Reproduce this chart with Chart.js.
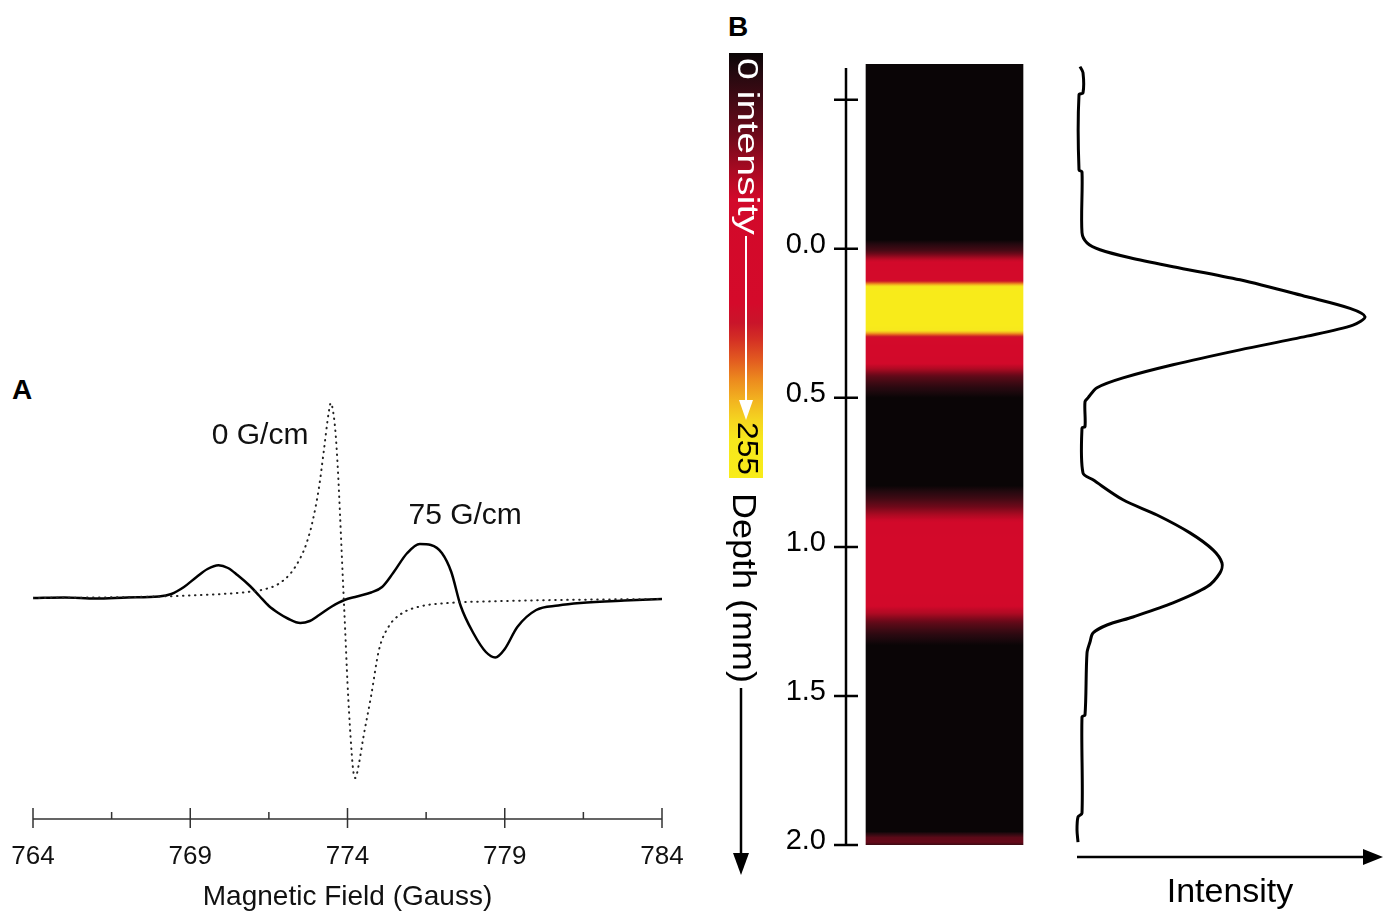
<!DOCTYPE html>
<html>
<head>
<meta charset="utf-8">
<script src="https://cdn.jsdelivr.net/npm/chart.js@4.4.1/dist/chart.umd.min.js"></script>
<style>
  html, body { margin: 0; padding: 0; background: #fff; }
  body { width: 1383px; height: 914px; position: relative; overflow: hidden; font-family: "Liberation Sans", Arial, sans-serif; }
  canvas { position: absolute; }
  .panel { position: absolute; font-weight: bold; font-size: 28px; line-height: 28px; color: #000; }
</style>
</head>
<body>
<div class="panel" style="left:12px;top:376px">A</div>
<div class="panel" style="left:728px;top:13px">B</div>
<canvas id="chartA" width="700" height="554" style="left:0;top:360px"></canvas>
<canvas id="chartCbar" width="50" height="850" style="left:720px;top:40px"></canvas>
<canvas id="chartDepth" width="280" height="914" style="left:770px;top:0"></canvas>
<canvas id="chartProfile" width="333" height="914" style="left:1050px;top:0"></canvas>
<script>
const FONT = '"Liberation Sans", Arial, Helvetica, sans-serif'

// ---------- panel A : EPR spectra ----------
const fieldTicks = [764, 766.5, 769, 771.5, 774, 776.5, 779, 781.5, 784]
const majorTicks = [764, 769, 774, 779, 784]

// 75 G/cm (solid)
const solidField = [764.0, 765.0, 766.0, 767.0, 768.0, 768.4, 768.8, 769.2, 769.55, 769.9, 770.2, 770.5, 770.9, 771.2, 771.5, 771.8, 772.1, 772.5, 772.8, 773.1, 773.5, 773.9, 774.3, 774.75, 775.1, 775.45, 775.9, 776.3, 776.65, 777.0, 777.3, 777.6, 778.0, 778.4, 778.7, 779.0, 779.4, 780.0, 780.7, 781.4, 782.8, 784.0]
const solidSignal = [0, 0.5, -0.5, 0.5, 1.5, 4, 11, 21, 29, 32.7, 30, 23, 12, 2, -8, -15, -20.5, -25, -23, -17, -8.5, -2, 1.5, 5.5, 11, 25, 45, 54, 53, 45, 26, -8, -35, -54, -59.5, -51, -29, -12, -7.5, -5, -2.5, -1]

// 0 G/cm (dotted)
const dotField = [764.0, 766.0, 768.0, 769.0, 770.0, 770.8, 771.4, 771.8, 772.2, 772.5, 772.7, 772.9, 773.1, 773.25, 773.4, 773.47, 773.55, 773.62, 773.7, 773.76, 773.83, 773.88, 773.93, 774.0, 774.1, 774.18, 774.25, 774.35, 774.5, 774.75, 775.0, 775.3, 775.7, 776.3, 777.2, 778.6, 781.4, 784.0]
const dotSignal = [0, 0.5, 1.5, 2.5, 4, 6, 9, 14, 25, 40, 55, 78, 112, 148, 185, 195, 185, 165, 125, 85, 35, 0, -35, -85, -140, -172, -180, -168, -140, -98, -52, -29, -16, -8.5, -5, -3.3, -1.7, -1]

const curveNames = ['0 G/cm', '75 G/cm']
const nameField = [771.22, 777.74]
const nameSignal = [162, 82]

// ---------- panel B : depth profile ----------
const depthMin = -0.62
const depthMax = 2.0
const depthTicks = [-0.5, 0, 0.5, 1.0, 1.5, 2.0]

// colour scale 0..255
const cbarLevel = [0, 12, 30, 50, 70, 88, 150, 162, 172, 184, 196, 208, 220, 232, 255]
const cbarColor = ['#0a0506', '#24090f', '#460a15', '#70091a', '#a80a22', '#d2092a', '#d40a2a', '#c9152a', '#d43024', '#e25a20', '#ec8a1e', '#f2b220', '#f5d420', '#f7e81c', '#f8ec1a']

// image strip, level
const stripDepth = [-0.62, -0.03, 0.005, 0.04, 0.075, 0.1, 0.107, 0.117, 0.128, 0.144, 0.255, 0.272, 0.285, 0.299, 0.322, 0.372, 0.40, 0.43, 0.465, 0.5, 0.795, 0.835, 0.872, 0.909, 0.966, 1.111, 1.178, 1.22, 1.258, 1.295, 1.33, 1.955, 1.975, 1.99, 2.0]
const stripLevel = [0, 0, 30, 85, 120, 125, 160, 195, 235, 250, 250, 235, 195, 150, 115, 100, 75, 40, 15, 0, 0, 25, 55, 85, 105, 112, 100, 75, 40, 15, 0, 0, 40, 45, 25]

// intensity profile
const profileDepth = [-0.611, -0.591, -0.523, -0.517, -0.265, -0.258, -0.054, -0.02, 0.003, 0.03, 0.06, 0.104, 0.161, 0.2, 0.228, 0.256, 0.293, 0.339, 0.389, 0.433, 0.466, 0.5, 0.513, 0.597, 0.601, 0.752, 0.775, 0.842, 0.893, 0.953, 1.01, 1.054, 1.087, 1.134, 1.188, 1.235, 1.262, 1.289, 1.319, 1.356, 1.564, 1.57, 1.893, 1.906, 1.95, 1.99]
const profileIntensity = [3, 6, 6, 2, 2, 5, 5, 10, 23, 53, 96, 163, 230, 273, 288, 276, 230, 163, 96, 46, 20, 11, 8, 8, 5, 6, 16, 46, 80, 113, 136, 145, 143, 130, 96, 56, 30, 16, 13, 10, 8, 5, 5, 1, 0, 1]

Chart.defaults.font.family = FONT
Chart.defaults.color = '#000'

function hexRgb(h) {
  const n = parseInt(h.slice(1), 16)
  return [(n >> 16) & 255, (n >> 8) & 255, n & 255]
}

function levelColor(level) {
  if (level <= cbarLevel[0]) return cbarColor[0]
  for (let i = 1; i < cbarLevel.length; i++) {
    if (level <= cbarLevel[i]) {
      const t = (level - cbarLevel[i - 1]) / (cbarLevel[i] - cbarLevel[i - 1])
      const a = hexRgb(cbarColor[i - 1]), b = hexRgb(cbarColor[i])
      return 'rgb(' + a.map((v, k) => Math.round(v + (b[k] - v) * t)).join(',') + ')'
    }
  }
  return cbarColor[cbarColor.length - 1]
}

function cbarGradient(chart) {
  const {ctx, chartArea, scales} = chart
  if (!chartArea) return cbarColor[0]
  const y = scales.y
  const g = ctx.createLinearGradient(0, y.getPixelForValue(0), 0, y.getPixelForValue(255))
  cbarLevel.forEach((l, i) => g.addColorStop(l / 255, cbarColor[i]))
  return g
}

function stripGradient(chart) {
  const {ctx, chartArea, scales} = chart
  if (!chartArea) return '#000'
  const y = scales.y
  const g = ctx.createLinearGradient(0, y.getPixelForValue(depthMin), 0, y.getPixelForValue(depthMax))
  const n = stripDepth.length
  for (let i = 0; i < n; i++) {
    const steps = i < n - 1 ? 6 : 1
    for (let s = 0; s < steps; s++) {
      const f = s / steps
      const d = i < n - 1 ? stripDepth[i] + (stripDepth[i + 1] - stripDepth[i]) * f : stripDepth[i]
      const l = i < n - 1 ? stripLevel[i] + (stripLevel[i + 1] - stripLevel[i]) * f : stripLevel[i]
      const off = Math.min(1, Math.max(0, (d - depthMin) / (depthMax - depthMin)))
      g.addColorStop(off, levelColor(l))
    }
  }
  return g
}

// rotated (clockwise) text stretched between two y positions
function fitText(ctx, text, cx, y0, y1, font, color) {
  ctx.save()
  ctx.font = font
  ctx.fillStyle = color
  const w = ctx.measureText(text).width
  ctx.translate(cx, y0)
  ctx.rotate(Math.PI / 2)
  ctx.scale((y1 - y0) / w, 1)
  ctx.textAlign = 'left'
  ctx.textBaseline = 'middle'
  ctx.fillText(text, 0, 0)
  ctx.restore()
}

function arrowDown(ctx, x, y0, y1, head, half, color, width) {
  ctx.save()
  ctx.strokeStyle = color
  ctx.fillStyle = color
  ctx.lineWidth = width
  ctx.beginPath()
  ctx.moveTo(x, y0)
  ctx.lineTo(x, y1 - head + 2)
  ctx.stroke()
  ctx.beginPath()
  ctx.moveTo(x - half, y1 - head)
  ctx.lineTo(x + half, y1 - head)
  ctx.lineTo(x, y1)
  ctx.closePath()
  ctx.fill()
  ctx.restore()
}

//########################## panel A
const fieldAxis = {
  id: 'fieldAxis',
  afterDraw(chart) {
    const {ctx, chartArea} = chart
    const x = chart.scales.x, y = chart.scales.y
    const y0 = chartArea.bottom
    ctx.save()
    ctx.strokeStyle = '#333'
    ctx.lineWidth = 1.5
    ctx.beginPath()
    ctx.moveTo(x.left, y0)
    ctx.lineTo(x.right, y0)
    fieldTicks.forEach(v => {
      const px = x.getPixelForValue(v)
      const major = majorTicks.includes(v)
      ctx.moveTo(px, y0 - (major ? 11 : 7))
      ctx.lineTo(px, y0 + (major ? 9 : 0))
    })
    ctx.stroke()
    ctx.font = '30px ' + FONT
    ctx.fillStyle = '#111'
    ctx.textAlign = 'center'
    ctx.textBaseline = 'middle'
    curveNames.forEach((t, i) => {
      ctx.fillText(t, x.getPixelForValue(nameField[i]), y.getPixelForValue(nameSignal[i]))
    })
    ctx.restore()
  }
}

new Chart(document.getElementById('chartA'), {
  type: 'scatter',
  data: {
    datasets: [
      {
        label: '0 G/cm',
        data: dotField.map((f, i) => ({x: f, y: dotSignal[i]})),
        showLine: true,
        pointRadius: 0,
        borderColor: '#222',
        borderWidth: 2,
        borderDash: [0.5, 5.5],
        borderCapStyle: 'round',
        cubicInterpolationMode: 'monotone'
      },
      {
        label: '75 G/cm',
        data: solidField.map((f, i) => ({x: f, y: solidSignal[i]})),
        showLine: true,
        pointRadius: 0,
        borderColor: '#000',
        borderWidth: 2.5,
        cubicInterpolationMode: 'monotone'
      }
    ]
  },
  options: {
    responsive: false,
    animation: false,
    events: [],
    layout: {padding: {left: 33, right: 38, top: 20, bottom: 0}},
    plugins: {legend: {display: false}, tooltip: {enabled: false}},
    scales: {
      x: {
        type: 'linear',
        min: 764,
        max: 784,
        grid: {display: false, drawTicks: false},
        border: {display: false},
        afterBuildTicks: s => { s.ticks = fieldTicks.map(v => ({value: v})) },
        afterFit: s => { s.height = 95; s.paddingLeft = 0; s.paddingRight = 0 },
        ticks: {
          autoSkip: false,
          maxRotation: 0,
          padding: 22,
          color: '#111',
          font: {size: 26},
          callback: v => majorTicks.includes(v) ? String(v) : ''
        },
        title: {display: true, text: 'Magnetic Field (Gauss)', color: '#111', font: {size: 28}, padding: {top: 0, bottom: 0}}
      },
      y: {display: false, min: -221, max: 218}
    }
  },
  plugins: [fieldAxis]
})

//########################## colour bar
const cbarText = {
  id: 'cbarText',
  afterDraw(chart) {
    const {ctx, chartArea: a} = chart
    const cx = (a.left + a.right) / 2
    fitText(ctx, '0 intensity', cx, a.top + 5, a.top + 182, '30px ' + FONT, '#fff')
    arrowDown(ctx, cx, a.top + 183, a.top + 367, 20, 7, '#fff', 2)
    fitText(ctx, '255', cx, a.top + 369, a.top + 422, '30px ' + FONT, '#000')
    // depth axis label
    fitText(ctx, 'Depth (mm)', cx - 4, a.bottom + 15, a.bottom + 205, '34px ' + FONT, '#000')
    arrowDown(ctx, cx - 5, a.bottom + 210, a.bottom + 397, 22, 8, '#000', 2.5)
  }
}

new Chart(document.getElementById('chartCbar'), {
  type: 'bar',
  data: {
    labels: ['intensity'],
    datasets: [{
      data: [[0, 255]],
      backgroundColor: c => cbarGradient(c.chart),
      borderWidth: 0,
      barPercentage: 1,
      categoryPercentage: 1
    }]
  },
  options: {
    responsive: false,
    animation: false,
    events: [],
    layout: {padding: {left: 9, right: 7, top: 13, bottom: 412}},
    plugins: {legend: {display: false}, tooltip: {enabled: false}},
    scales: {
      x: {display: false},
      y: {display: false, min: 0, max: 255, reverse: true}
    }
  },
  plugins: [cbarText]
})

//########################## depth axis + image strip
const depthAxis = {
  id: 'depthAxis',
  afterDraw(chart) {
    const {ctx} = chart
    const y = chart.scales.y
    const x0 = chart.chartArea.left
    ctx.save()
    ctx.strokeStyle = '#000'
    ctx.lineWidth = 2.5
    ctx.beginPath()
    ctx.moveTo(x0, y.getPixelForValue(-0.607))
    ctx.lineTo(x0, y.getPixelForValue(depthMax))
    depthTicks.forEach(d => {
      const py = y.getPixelForValue(d)
      ctx.moveTo(x0 - 12, py)
      ctx.lineTo(x0 + 12, py)
    })
    ctx.stroke()
    ctx.restore()
  }
}

new Chart(document.getElementById('chartDepth'), {
  type: 'bar',
  data: {
    labels: ['strip'],
    datasets: [{
      data: [[depthMin, depthMax]],
      backgroundColor: c => stripGradient(c.chart),
      borderWidth: 0,
      barThickness: 157
    }]
  },
  options: {
    responsive: false,
    animation: false,
    events: [],
    layout: {padding: {left: 0, right: 7, top: 64, bottom: 69}},
    plugins: {legend: {display: false}, tooltip: {enabled: false}},
    scales: {
      x: {display: false},
      y: {
        min: depthMin,
        max: depthMax,
        reverse: true,
        grid: {display: false, drawTicks: false},
        border: {display: false},
        afterBuildTicks: s => { s.ticks = depthTicks.map(v => ({value: v})) },
        afterFit: s => { s.width = 76 },
        ticks: {
          padding: 20,
          labelOffset: -4,
          color: '#000',
          font: {size: 29},
          callback: v => v < 0 ? '' : v.toFixed(1)
        }
      }
    }
  },
  plugins: [depthAxis]
})

//########################## intensity profile
const intensityArrow = {
  id: 'intensityArrow',
  afterDraw(chart) {
    const {ctx, chartArea: a} = chart
    const y = a.bottom + 12
    ctx.save()
    ctx.strokeStyle = '#000'
    ctx.fillStyle = '#000'
    ctx.lineWidth = 2.5
    ctx.beginPath()
    ctx.moveTo(a.left, y)
    ctx.lineTo(a.right - 16, y)
    ctx.stroke()
    ctx.beginPath()
    ctx.moveTo(a.right - 20, y - 8)
    ctx.lineTo(a.right, y)
    ctx.lineTo(a.right - 20, y + 8)
    ctx.closePath()
    ctx.fill()
    ctx.restore()
  }
}

new Chart(document.getElementById('chartProfile'), {
  type: 'scatter',
  data: {
    datasets: [{
      label: 'Intensity',
      data: profileDepth.map((d, i) => ({x: profileIntensity[i], y: d})),
      showLine: true,
      pointRadius: 0,
      borderColor: '#000',
      borderWidth: 3,
      tension: 0.3,
      clip: false
    }]
  },
  options: {
    responsive: false,
    animation: false,
    events: [],
    layout: {padding: {left: 27, right: 0, top: 64, bottom: 0}},
    plugins: {legend: {display: false}, tooltip: {enabled: false}},
    scales: {
      x: {
        type: 'linear',
        min: 0,
        max: 306,
        grid: {display: false, drawTicks: false},
        border: {display: false},
        ticks: {display: false},
        afterFit: s => { s.height = 69 },
        title: {display: true, text: 'Intensity', color: '#000', font: {size: 34}, padding: {top: 0, bottom: 1}}
      },
      y: {display: false, min: depthMin, max: depthMax, reverse: true}
    }
  },
  plugins: [intensityArrow]
})
</script>
</body>
</html>
